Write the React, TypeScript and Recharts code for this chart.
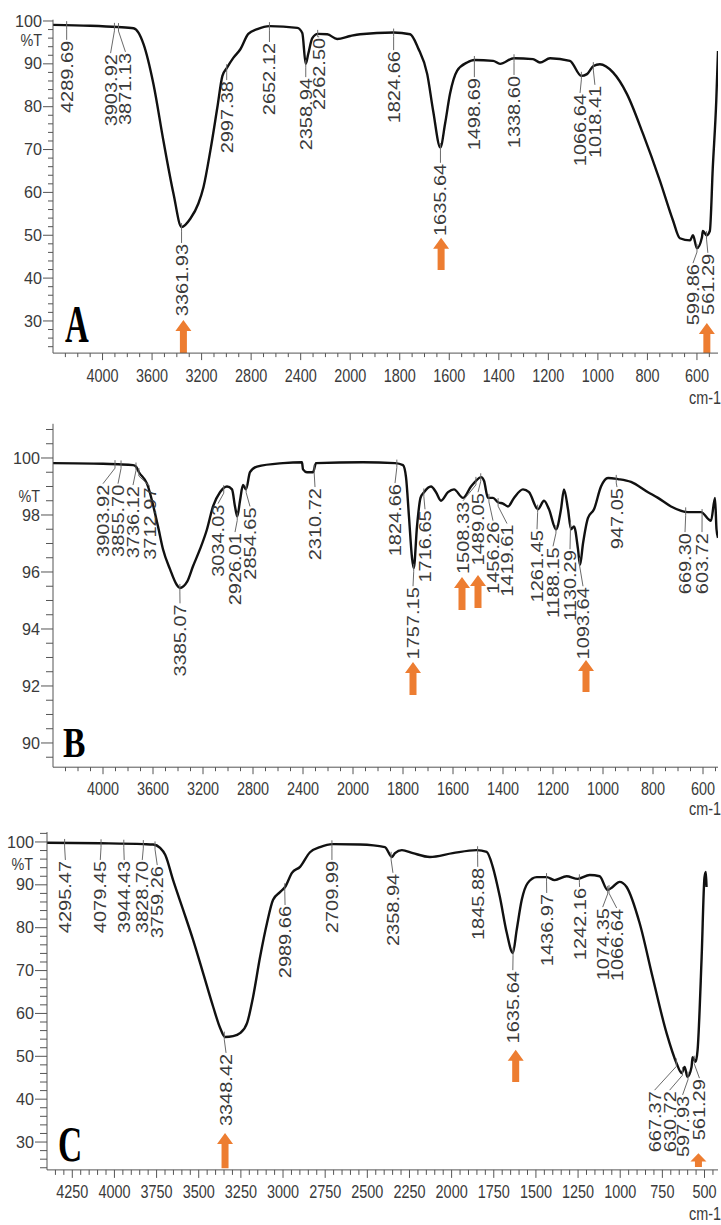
import { ComposedChart, Line, ReferenceLine, XAxis, YAxis } from "recharts";

type Pt = [number, number]; // [wavenumber, %T]
type Peak = [string, number, number]; // [label, label position (cm-1), label top (%T)]
type Arrow = [number, number, number]; // [wavenumber, tip %T, tail %T]

const FONT = "Arial, 'Liberation Sans', Helvetica, sans-serif";
const ORANGE = "#ED7D31";
const TEXT = "#3a3a3a";
const AXIS = "#555";

// ---------- panel A ----------
const spectrumA: Pt[] = [
	[4400, 99.1], [4100, 98.9], [3880, 98.6], [3750, 98.3], [3710, 97.3], [3669, 94.6], [3589, 85.3],
	[3508, 72], [3427, 59.7], [3362, 51.9], [3290, 53.9], [3226, 57.4], [3185, 61.2], [3129, 69.8],
	[3073, 79.8], [3032, 87.2], [2997, 89], [2944, 91.4], [2887, 93.4], [2823, 97], [2750, 98.1],
	[2652, 98.8], [2427, 98.4], [2387, 97.2], [2359, 90], [2339, 92.3], [2306, 96], [2262, 97],
	[2185, 96.9], [2105, 95.8], [2000, 96.5], [1960, 96.9], [1825, 97.3], [1758, 96.9], [1726, 93.7],
	[1689, 87.6], [1665, 79], [1636, 70.5], [1617, 76], [1597, 83], [1568, 88.4], [1528, 90.3],
	[1499, 90.9], [1423, 90.7], [1395, 90], [1339, 91.3], [1262, 91.1], [1234, 90.3], [1193, 91.3],
	[1113, 90.7], [1067, 87.2], [1044, 87.6], [1018, 89.5], [992, 89.9], [939, 88], [883, 83],
	[818, 73.7], [750, 62.8], [697, 53.5], [669, 49.3], [628, 48.8], [616, 50], [600, 47], [580, 49.5],
	[576, 51], [561, 50], [548, 51], [536, 65.8], [522, 81.4], [515, 93],
];
const peaksA: Peak[] = [
	["4289.69", 4289.69, 95.6], ["3903.92", 3935, 92.5], ["3871.13", 3815, 92.8], ["3361.93", 3361.93, 48.2],
	["2997.38", 2997.38, 86.2], ["2652.12", 2652.12, 95.1], ["2358.94", 2358.94, 86.9], ["2262.50", 2250, 96.3],
	["1824.66", 1824.66, 93.2], ["1635.64", 1635.64, 66.9], ["1498.69", 1498.69, 86.9], ["1338.60", 1338.6, 87.4],
	["1066.64", 1072, 83.2], ["1018.41", 1012, 85.1], ["599.86", 616, 43.5], ["561.29", 556, 45.9],
];
const arrowsA: Arrow[] = [[3347, 30.2, 22.5], [1633, 49.4, 41.9], [560, 29.5, 22.5]];
const xTicksA = [4000, 3600, 3200, 2800, 2400, 2000, 1800, 1600, 1400, 1200, 1000, 800, 600];
const yTicksA = [30, 40, 50, 60, 70, 80, 90, 100];

// ---------- panel B ----------
const spectrumB: Pt[] = [
	[4400, 99.82], [4000, 99.8], [3880, 99.78], [3760, 99.75], [3736, 99.7], [3712, 99.5], [3648, 99.1],
	[3560, 97.6], [3520, 96.8], [3464, 96.1], [3410, 95.55], [3385, 95.44], [3328, 95.65], [3280, 96.2],
	[3224, 96.8], [3168, 97.5], [3120, 98.3], [3064, 98.8], [3008, 99.0], [2968, 98.9], [2944, 98.3],
	[2926, 97.95], [2904, 98.5], [2880, 99.05], [2856, 98.9], [2824, 99.5], [2768, 99.7], [2560, 99.82],
	[2408, 99.85], [2400, 99.6], [2368, 99.5], [2320, 99.5], [2296, 99.82], [1960, 99.85], [1832, 99.82],
	[1800, 99.75], [1788, 99.33], [1776, 97.93], [1764, 96.5], [1757, 96.14], [1744, 97.6], [1730, 98.6],
	[1716, 98.8], [1688, 99.0], [1668, 98.8], [1648, 98.5], [1620, 98.8], [1596, 98.9], [1560, 98.6],
	[1528, 99.0], [1508, 99.2], [1488, 99.33], [1476, 99.2], [1460, 98.6], [1440, 98.6], [1420, 98.45],
	[1400, 98.4], [1380, 98.3], [1356, 98.6], [1320, 98.9], [1296, 98.8], [1260, 98.2], [1236, 98.5],
	[1216, 98.2], [1188, 97.5], [1168, 98.2], [1156, 98.9], [1140, 98.2], [1128, 97.5], [1116, 97.6],
	[1100, 96.8], [1092, 96.25], [1080, 97.0], [1060, 97.9], [1036, 98.2], [1008, 99.0], [980, 99.3],
	[940, 99.26], [888, 99.16], [820, 98.8], [780, 98.6], [728, 98.3], [660, 98.1], [608, 98.1],
	[568, 97.8], [552, 98.6], [546, 97.5], [540, 97.2],
];
const peaksB: Peak[] = [
	["3903.92", 4000, 99.1], ["3855.70", 3880, 99.1], ["3736.12", 3760, 99.05], ["3712.97", 3624, 99.0],
	["3385.07", 3384, 94.9], ["3034.03", 3080, 98.4], ["2926.01", 2944, 97.4], ["2854.65", 2824, 98.3],
	["2310.72", 2304, 98.98], ["1824.66", 1832, 99.12], ["1757.15", 1760, 95.5], ["1716.65", 1712, 98.2],
	["1508.33", 1560, 98.5], ["1489.05", 1500, 98.8], ["1456.26", 1440, 97.8], ["1419.61", 1384, 97.7],
	["1261.45", 1264, 97.5], ["1188.15", 1200, 96.9], ["1130.29", 1132, 96.8], ["1093.64", 1080, 95.5],
	["947.05", 944, 98.98], ["669.30", 672, 97.4], ["603.72", 604, 97.4],
];
const arrowsB: Arrow[] = [[1760, 92.84, 91.68], [1564, 95.82, 94.67], [1500, 95.89, 94.74], [1068, 92.91, 91.79]];
const xTicksB = [4000, 3600, 3200, 2800, 2400, 2000, 1800, 1600, 1400, 1200, 1000, 800, 600];
const yTicksB = [90, 92, 94, 96, 98, 100];

// ---------- panel C ----------
const spectrumC: Pt[] = [
	[4400, 99.8], [4084, 99.7], [3829, 99.5], [3770, 99.4], [3729, 98.6], [3699, 97], [3652, 91.1],
	[3592, 84.1], [3533, 77.1], [3474, 69.4], [3414, 61.5], [3373, 56.6], [3344, 54.5], [3296, 54.7],
	[3255, 55.4], [3213, 57.8], [3178, 63.8], [3136, 73.2], [3095, 81.1], [3059, 86.5], [3018, 88.3],
	[2988, 89.5], [2947, 92.8], [2899, 94.2], [2840, 97.6], [2781, 98.8], [2704, 99.5], [2544, 99.4],
	[2396, 98.8], [2354, 96.5], [2336, 97.4], [2295, 98.1], [2230, 97.4], [2129, 96.5], [1993, 97.4],
	[1851, 98.1], [1792, 97.7], [1756, 94.2], [1714, 87.2], [1673, 78.8], [1637, 74.1], [1614, 79.5],
	[1584, 86.5], [1549, 90.4], [1495, 91.8], [1436, 91.8], [1389, 91.1], [1318, 92], [1252, 91.4],
	[1181, 92.3], [1122, 92], [1075, 88.8], [1045, 89.5], [1004, 90.7], [962, 89.5], [885, 81.1],
	[808, 68.5], [725, 55.4], [666, 48.4], [636, 46.1], [618, 47.5], [601, 45.2], [577, 47.5],
	[571, 49.8], [553, 48.7], [541, 51.5], [517, 73.2], [500, 91.8], [492, 93], [488, 89.5],
];
const peaksC: Peak[] = [
	["4295.47", 4291, 95.8], ["4079.45", 4084, 95.8], ["3944.43", 3942, 95.8], ["3828.70", 3835, 95.8],
	["3759.26", 3746, 94.6], ["3348.42", 3338, 50.8], ["2989.66", 2988, 85.3], ["2709.99", 2710, 95.8],
	["2358.94", 2348, 92.8], ["1845.88", 1845, 94.2], ["1635.64", 1637, 70.1], ["1436.97", 1436, 88.1],
	["1242.16", 1241, 89.5], ["1074.35", 1104, 84.8], ["1066.64", 1021, 84.6], ["667.37", 796, 42.1],
	["630.72", 707, 42.1], ["597.93", 630, 41.0], ["561.29", 530, 44.9],
];
const arrowsC: Arrow[] = [[3344, 32.1, 23.9], [1620, 51.5, 44.0], [536, 27.4, 24.2]];
const xTicksC = [4250, 4000, 3750, 3500, 3250, 3000, 2750, 2500, 2250, 2000, 1750, 1500, 1250, 1000, 750, 500];
const yTicksC = [30, 40, 50, 60, 70, 80, 90, 100];

// the instrument halves the scale above 2000 cm-1
const brokenU = (w: number) => (w > 2000 ? 2000 + (w - 2000) / 2 : w);
const brokenW = (u: number) => (u > 2000 ? 2000 + (u - 2000) * 2 : u);
const same = (v: number) => v;

function interp(series: Pt[], w: number): number {
	for (let i = 0; i < series.length - 1; i++) {
		const [w0, t0] = series[i];
		const [w1, t1] = series[i + 1];
		if (w <= w0 && w >= w1) return t0 + ((t1 - t0) * (w0 - w)) / (w0 - w1 || 1);
	}
	return series[series.length - 1][1];
}

function stepTicks(lo: number, hi: number, step: number, skip: number[]): number[] {
	const out: number[] = [];
	for (let v = Math.ceil(lo / step) * step; v < hi - 1e-9; v += step) {
		const r = Math.round(v * 1000) / 1000;
		if (!skip.some((s) => Math.abs(s - r) < 1e-6)) out.push(r);
	}
	return out;
}

type PanelProps = {
	spectrum: Pt[];
	peaks: Peak[];
	arrows: Arrow[];
	xMajors: number[];
	yMajors: number[];
	yMinorStep: number;
	xMinorStep: number;
	toU: (w: number) => number;
	fromU: (u: number) => number;
	xDomain: [number, number];
	yDomain: [number, number];
	top: number;
	height: number;
	marginTop: number;
	axisWidth: number;
	axisHeight: number;
	xTickLen: [number, number];
	yTickLen: [number, number];
	xLabelGap: number;
};

function Panel(p: PanelProps) {
	const rows = p.spectrum.map(([w, t]) => ({ u: p.toU(w), t }));
	const xMajorU = p.xMajors.map(p.toU);
	const xTicks = [...xMajorU, ...stepTicks(p.xDomain[0], p.xDomain[1], p.xMinorStep, xMajorU)];
	const yTicks = [...p.yMajors, ...stepTicks(p.yDomain[0], p.yDomain[1] + 1e-6, p.yMinorStep, p.yMajors)];

	const xTick = (props: any) => {
		const { x, y, payload } = props;
		const major = xMajorU.includes(payload.value);
		return (
			<g>
				<line stroke={AXIS} x1={x} x2={x} y1={y} y2={y + (major ? p.xTickLen[0] : p.xTickLen[1])} />
				{major && (
					<text fill={TEXT} fontFamily={FONT} fontSize={18.5} textAnchor="middle" transform={`translate(${x},${y + p.xLabelGap}) scale(0.78,1)`}>
						{Math.round(p.fromU(payload.value))}
					</text>
				)}
			</g>
		);
	};

	const yTick = (props: any) => {
		const { x, y, payload } = props;
		const major = p.yMajors.includes(payload.value);
		return (
			<g>
				<line stroke={AXIS} x1={x - (major ? p.yTickLen[0] : p.yTickLen[1])} x2={x} y1={y} y2={y} />
				{major && (
					<text dominantBaseline="central" fill={TEXT} fontFamily={FONT} fontSize={17} textAnchor="end" transform={`translate(${x - p.yTickLen[0] - 1},${y}) scale(0.95,1)`}>
						{payload.value}
					</text>
				)}
			</g>
		);
	};

	const peakShape = (text: string) => (s: any) => {
		const a = s.y1 <= s.y2 ? { px: s.x1, py: s.y1, lx: s.x2, ly: s.y2 } : { px: s.x2, py: s.y2, lx: s.x1, ly: s.y1 };
		const bend = Math.min(a.py + 4, a.ly);
		return (
			<g>
				<polyline fill="none" points={`${a.px},${a.py - 4} ${a.px},${bend} ${a.lx},${a.ly}`} stroke="#6a6a6a" strokeWidth={1} />
				<text dominantBaseline="central" fill={TEXT} fontFamily={FONT} fontSize={20} textAnchor="end" transform={`translate(${a.lx},${a.ly + 1}) scale(0.85,1) rotate(-90)`}>
					{text}
				</text>
			</g>
		);
	};

	const arrowShape = (s: any) => {
		const x = s.x1;
		const tip = Math.min(s.y1, s.y2);
		const tail = Math.max(s.y1, s.y2);
		const head = Math.min(11, (tail - tip) * 0.6);
		const d = `M${x},${tip} L${x + 8},${tip + head} L${x + 3.5},${tip + head} L${x + 3.5},${tail} L${x - 3.5},${tail} L${x - 3.5},${tip + head} L${x - 8},${tip + head} Z`;
		return <path d={d} fill={ORANGE} />;
	};

	return (
		<div style={{ left: 0, position: "absolute", top: p.top }}>
			<ComposedChart data={rows} height={p.height} margin={{ bottom: 0, left: 0, right: 3, top: p.marginTop }} width={721}>
				<XAxis allowDataOverflow axisLine={{ stroke: AXIS }} dataKey="u" domain={p.xDomain} height={p.axisHeight} interval={0} reversed tick={xTick} tickLine={false} tickMargin={0} tickSize={0} ticks={xTicks} type="number" />
				<YAxis allowDataOverflow axisLine={{ stroke: AXIS }} domain={p.yDomain} interval={0} tick={yTick} tickLine={false} tickMargin={0} tickSize={0} ticks={yTicks} type="number" width={p.axisWidth} />
				<Line dataKey="t" dot={false} isAnimationActive={false} stroke="#111" strokeWidth={2.4} type="monotone" />
				{p.peaks.map(([text, at, topT]) => {
					const w = parseFloat(text);
					return (
						<ReferenceLine
							ifOverflow="visible"
							key={text}
							segment={[
								{ x: p.toU(w), y: interp(p.spectrum, w) },
								{ x: p.toU(at), y: topT },
							]}
							shape={peakShape(text)}
						/>
					);
				})}
				{p.arrows.map(([w, tip, tail]) => (
					<ReferenceLine
						ifOverflow="visible"
						key={`arrow-${w}`}
						segment={[
							{ x: p.toU(w), y: tail },
							{ x: p.toU(w), y: tip },
						]}
						shape={arrowShape}
					/>
				))}
			</ComposedChart>
		</div>
	);
}

const panelLetters: [string, number, number, number, number][] = [
	["A", 65, 342, 53, 0.62],
	["B", 63, 757, 42, 0.8],
	["C", 58, 1161, 50, 0.67],
];
const unitLabels: [number, number][] = [[42, 46], [40, 502], [33, 870]];
const cmLabels: number[] = [404, 815, 1220];

export default function App() {
	return (
		<div style={{ background: "#fff", height: 1225, left: 0, overflow: "hidden", position: "absolute", top: 0, width: 721 }}>
			<Panel
				arrows={arrowsA}
				axisHeight={46.9}
				axisWidth={53}
				fromU={brokenW}
				height={400}
				marginTop={19.7}
				peaks={peaksA}
				spectrum={spectrumA}
				toU={brokenU}
				top={0}
				xDomain={[515, 3200]}
				xLabelGap={29}
				xMajors={xTicksA}
				xMinorStep={50}
				xTickLen={[7, 4]}
				yDomain={[22.5, 100.3]}
				yMajors={yTicksA}
				yMinorStep={2}
				yTickLen={[10, 5]}
			/>
			<Panel
				arrows={arrowsB}
				axisHeight={42.8}
				axisWidth={53}
				fromU={brokenW}
				height={410}
				marginTop={23.8}
				peaks={peaksB}
				spectrum={spectrumB}
				toU={brokenU}
				top={400}
				xDomain={[540, 3200]}
				xLabelGap={28}
				xMajors={xTicksB}
				xMinorStep={50}
				xTickLen={[7, 4]}
				yDomain={[89.15, 101.2]}
				yMajors={yTicksB}
				yMinorStep={0.5}
				yTickLen={[12, 7]}
			/>
			<Panel
				arrows={arrowsC}
				axisHeight={55.1}
				axisWidth={47}
				fromU={same}
				height={415}
				marginTop={22.1}
				peaks={peaksC}
				spectrum={spectrumC}
				toU={same}
				top={810}
				xDomain={[420, 4400]}
				xLabelGap={28}
				xMajors={xTicksC}
				xMinorStep={50}
				xTickLen={[8, 5]}
				yDomain={[23.5, 102.3]}
				yMajors={yTicksC}
				yMinorStep={2}
				yTickLen={[12, 7]}
			/>
			<svg height={1225} style={{ left: 0, pointerEvents: "none", position: "absolute", top: 0 }} width={721}>
				{panelLetters.map(([letter, x, base, size, sx]) => (
					<text fill="#000" fontFamily="'Liberation Serif', 'Times New Roman', serif" fontSize={size} fontWeight="bold" key={letter} transform={`translate(${x},${base}) scale(${sx},1)`}>
						{letter}
					</text>
				))}
				{unitLabels.map(([x, base]) => (
					<text fill={TEXT} fontFamily={FONT} fontSize={16} key={`t-${base}`} textAnchor="end" transform={`translate(${x},${base}) scale(0.9,1)`}>
						%T
					</text>
				))}
				{cmLabels.map((base) => (
					<text fill={TEXT} fontFamily={FONT} fontSize={18.5} key={`cm-${base}`} transform={`translate(689,${base}) scale(0.78,1)`}>
						cm-1
					</text>
				))}
			</svg>
		</div>
	);
}
